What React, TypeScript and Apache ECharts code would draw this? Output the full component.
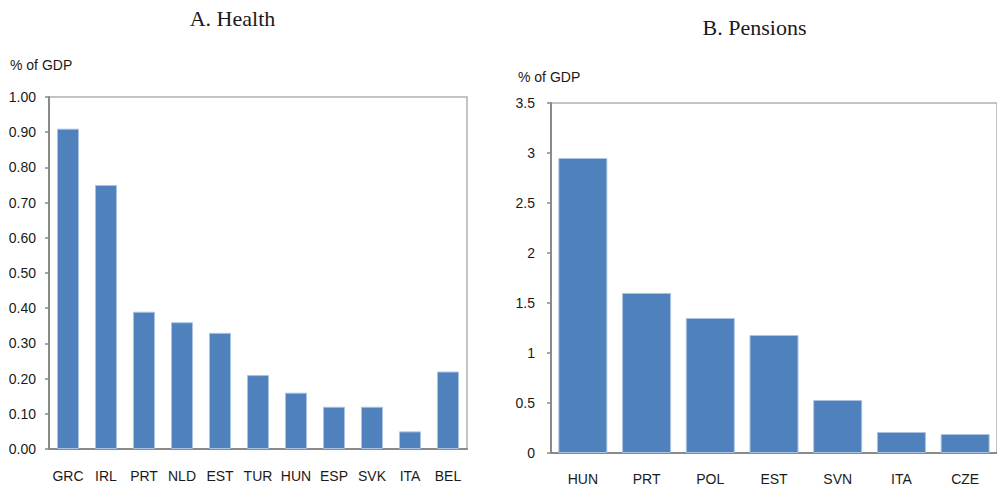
import React, { useEffect, useRef } from "react";
import * as echarts from "echarts";

const healthCategories = ["GRC", "IRL", "PRT", "NLD", "EST", "TUR", "HUN", "ESP", "SVK", "ITA", "BEL"];
const healthValues = [0.91, 0.75, 0.39, 0.36, 0.33, 0.21, 0.16, 0.12, 0.12, 0.05, 0.22];

const pensionCategories = ["HUN", "PRT", "POL", "EST", "SVN", "ITA", "CZE"];
const pensionValues = [2.95, 1.6, 1.35, 1.18, 0.53, 0.21, 0.19];

const panelTitles = ["A. Health", "B. Pensions"];
const unitLabel = "% of GDP";

const SANS = "'Liberation Sans', Arial, sans-serif";
const SERIF = "'Liberation Serif', 'Times New Roman', serif";
const BAR = "#4F81BD";
const AXIS = "#8a8a8a";
const FRAME = "#b0b0b0";
const TEXT = "#1a1a1a";

export default function App() {
  const ref = useRef<HTMLDivElement>(null);

  useEffect(() => {
    if (!ref.current) return;
    const chart = echarts.init(ref.current, undefined, { renderer: "svg" });

    const axisLabel = { color: TEXT, fontFamily: SANS, fontSize: 14 };
    const titleStyle = {
      fontFamily: SERIF,
      fontSize: 22,
      fill: TEXT,
      align: "center",
      verticalAlign: "middle",
    };

    chart.setOption({
      animation: false,
      backgroundColor: "#ffffff",
      graphic: [
        { type: "text", x: 232.5, y: 18, style: { ...titleStyle, text: panelTitles[0] } },
        { type: "text", x: 754.5, y: 27, style: { ...titleStyle, text: panelTitles[1] } },
        {
          type: "text",
          x: 10,
          y: 58,
          style: { text: unitLabel, fontFamily: SANS, fontSize: 14, fill: TEXT },
        },
        {
          type: "text",
          x: 518,
          y: 70,
          style: { text: unitLabel, fontFamily: SANS, fontSize: 14, fill: TEXT },
        },
      ],
      grid: [
        {
          left: 49,
          top: 97,
          width: 418,
          height: 352,
          show: true,
          borderColor: FRAME,
          borderWidth: 1.5,
          containLabel: false,
        },
        {
          left: 551,
          top: 103,
          width: 448,
          height: 350,
          show: true,
          borderColor: FRAME,
          borderWidth: 1.5,
          containLabel: false,
        },
      ],
      xAxis: [
        {
          type: "category",
          gridIndex: 0,
          data: healthCategories,
          axisLine: { lineStyle: { color: AXIS, width: 2 } },
          axisTick: { length: 5, lineStyle: { color: AXIS, width: 1.5 } },
          axisLabel: { ...axisLabel, margin: 20, interval: 0 },
        },
        {
          type: "category",
          gridIndex: 1,
          data: pensionCategories,
          axisLine: { lineStyle: { color: AXIS, width: 2 } },
          axisTick: { length: 5, lineStyle: { color: AXIS, width: 1.5 } },
          axisLabel: { ...axisLabel, margin: 19, interval: 0 },
        },
      ],
      yAxis: [
        {
          type: "value",
          gridIndex: 0,
          min: 0,
          max: 1,
          interval: 0.1,
          axisLine: { show: true, lineStyle: { color: AXIS, width: 2 } },
          axisTick: { show: true, length: 4, lineStyle: { color: AXIS, width: 1.5 } },
          splitLine: { show: false },
          axisLabel: { ...axisLabel, margin: 13, formatter: (v: number) => v.toFixed(2) },
        },
        {
          type: "value",
          gridIndex: 1,
          min: 0,
          max: 3.5,
          interval: 0.5,
          axisLine: { show: true, lineStyle: { color: AXIS, width: 2 } },
          axisTick: { show: true, length: 4, lineStyle: { color: AXIS, width: 1.5 } },
          splitLine: { show: false },
          axisLabel: { ...axisLabel, margin: 16 },
        },
      ],
      series: [
        {
          type: "bar",
          xAxisIndex: 0,
          yAxisIndex: 0,
          data: healthValues,
          barWidth: 22,
          itemStyle: { color: BAR, borderColor: "#a9c2e2", borderWidth: 1 },
        },
        {
          type: "bar",
          xAxisIndex: 1,
          yAxisIndex: 1,
          data: pensionValues,
          barWidth: 49,
          itemStyle: { color: BAR, borderColor: "#a9c2e2", borderWidth: 1 },
        },
      ],
    });

    return () => chart.dispose();
  }, []);

  return (
    <div
      ref={ref}
      style={{ position: "fixed", left: 0, top: 0, width: 997, height: 489, background: "#fff" }}
    />
  );
}
